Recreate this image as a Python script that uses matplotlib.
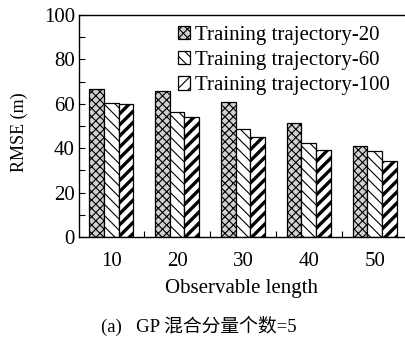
import matplotlib
matplotlib.use("Agg")
import matplotlib.pyplot as plt
import numpy as np
from matplotlib.ticker import FixedLocator, MultipleLocator

plt.rcParams['font.family'] = ['Liberation Serif', 'Noto Sans CJK SC']
plt.rcParams['hatch.linewidth'] = 0.8

lengths = ["10", "20", "30", "40", "50"]
series_names = ["Training trajectory-20", "Training trajectory-60", "Training trajectory-100"]
rmse_traj20 = [66.6, 65.6, 61.0, 51.5, 40.8]
rmse_traj60 = [60.5, 56.5, 48.8, 42.3, 38.7]
rmse_traj100 = [60.0, 54.1, 45.2, 39.1, 34.0]

fig = plt.figure(figsize=(4.05, 3.48), dpi=100)
ax = fig.add_axes([0.195, 0.319, 0.805, 0.638])

x = np.arange(len(lengths))
w = 0.223
styles = [
    dict(hatch='xxxx', facecolor='#d0d0d0'),
    dict(hatch='\\\\\\', facecolor='white'),
    dict(hatch='///', facecolor='white'),
]
values = [rmse_traj20, rmse_traj60, rmse_traj100]
handles = []
for i, (vals, st, name) in enumerate(zip(values, styles, series_names)):
    kw = dict(edgecolor='black', linewidth=0.9, label=name, **st)
    if i == 2:
        try:
            bars = ax.bar(x + (i - 1) * w, vals, w, hatch_linewidth=2.4, **kw)
        except Exception:
            bars = ax.bar(x + (i - 1) * w, vals, w, **kw)
    else:
        bars = ax.bar(x + (i - 1) * w, vals, w, **kw)
    handles.append(bars)

ax.set_xlim(-0.49, 4.46)
ax.set_ylim(0, 100)
ax.set_xticks(x)
ax.set_xticklabels(lengths)
ax.tick_params(axis='x', which='major', length=0, pad=11, labelsize=15)
ax.xaxis.set_minor_locator(FixedLocator(x[:-1] + 0.5))
ax.tick_params(axis='x', which='minor', direction='in', length=4, width=0.8)
ax.yaxis.set_major_locator(MultipleLocator(20))
ax.yaxis.set_minor_locator(MultipleLocator(10))
ax.tick_params(axis='y', which='major', direction='in', length=4, width=0.8, labelsize=15, pad=3)
ax.tick_params(axis='y', which='minor', direction='in', length=4, width=0.8)
ax.spines['right'].set_visible(False)
for s in ['left', 'bottom', 'top']:
    ax.spines[s].set_linewidth(1.0)

ax.set_ylabel("RMSE (m)", fontsize=13)
ax.yaxis.set_label_coords(-0.155, 0.47)
ax.set_xlabel("Observable length", fontsize=15)
ax.xaxis.set_label_coords(0.5, -0.19)

ax.legend(handles=handles, loc='upper left', bbox_to_anchor=(0.29, 0.97), frameon=False,
          fontsize=15, handlelength=0.6, handleheight=0.6, handletextpad=0.25,
          labelspacing=0.3, borderaxespad=0.0, borderpad=0.2)

fig.text(0.49, 0.063, "(a)   GP 混合分量个数=5", ha='center', va='center', fontsize=13.5)

fig.savefig("out.png", dpi=100)
